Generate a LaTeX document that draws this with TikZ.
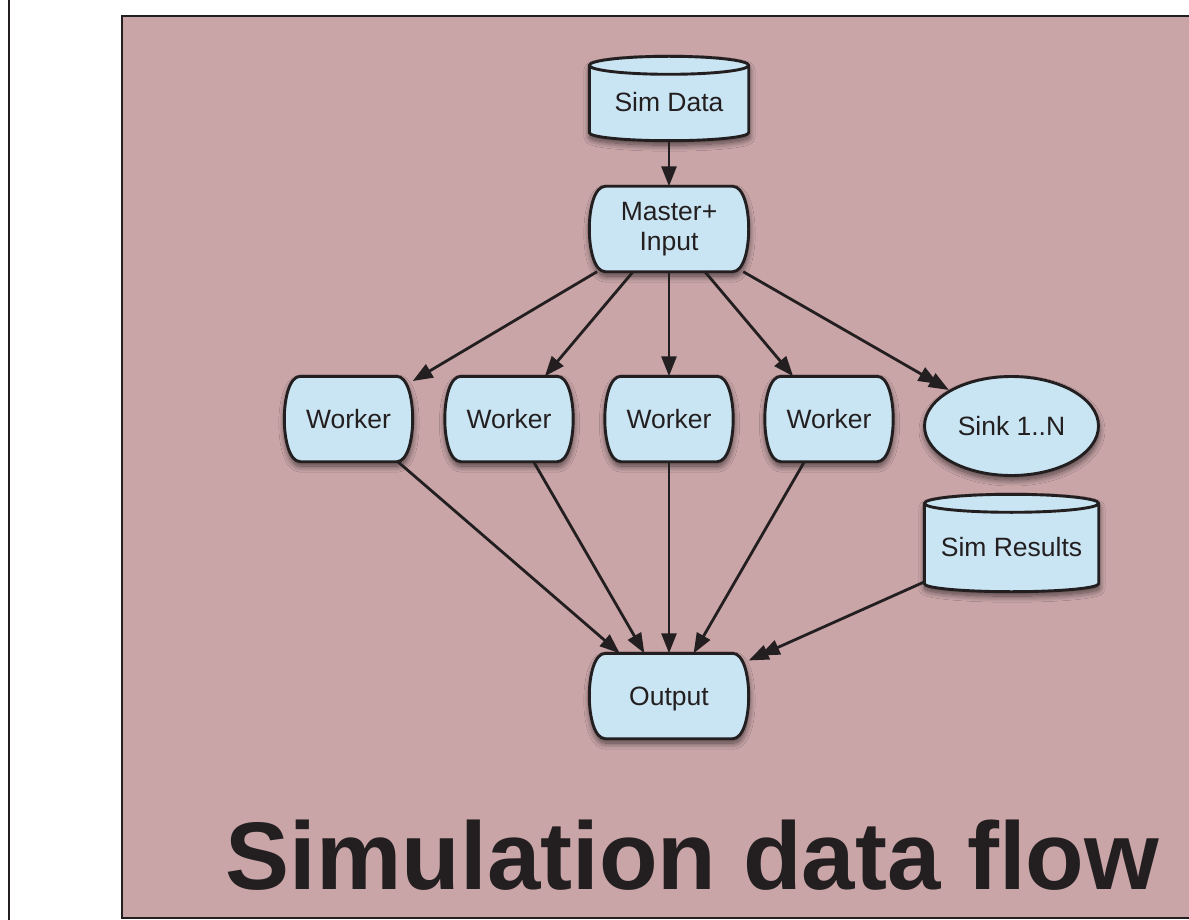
\documentclass[tikz,border=0pt]{standalone}
\usepackage{fontspec}
\setmainfont{Liberation Sans}
\usetikzlibrary{arrows.meta,shapes.geometric,backgrounds,shadows.blur,calc}

\definecolor{panel}{RGB}{201,165,168}
\definecolor{boxfill}{RGB}{201,228,242}
\definecolor{ink}{RGB}{35,31,32}

\tikzset{
  softshadow/.style={blur shadow={shadow xshift=0.5pt, shadow yshift=-4.5pt,
      shadow blur radius=6pt, shadow opacity=60, shadow blur steps=12}},
  shapebox/.style={draw=ink, fill=boxfill, line width=2.9pt, softshadow},
  lbl/.style={font=\fontsize{26.5pt}{30pt}\selectfont, text=ink, align=center, inner sep=0pt},
  termbox/.style={lbl, minimum width=159pt, minimum height=85pt},
  workbox/.style={lbl, minimum width=128pt, minimum height=85pt, text height=19pt, text depth=0pt},
  cylbox/.style={lbl, text height=27pt, text depth=0pt},
  flow/.style={draw=ink, line width=2.8pt, -{Triangle[length=20pt,width=15pt]}},
  flowtwo/.style={draw=ink, line width=2.8pt,
      -{Triangle[length=20pt,width=15pt,sep=-8pt]Triangle[length=20pt,width=15pt]}},
}

% terminal-like box: flat top and bottom, bulging sides
\newcommand\termpath[1]{%
  \path[shapebox] ([xshift=16pt]#1.north west) -- ([xshift=-16pt]#1.north east)
    .. controls ([xshift=5.33pt]#1.north east) and ([xshift=5.33pt]#1.south east) .. ([xshift=-16pt]#1.south east)
    -- ([xshift=16pt]#1.south west)
    .. controls ([xshift=-5.33pt]#1.south west) and ([xshift=-5.33pt]#1.north west) .. cycle;}

% storage cylinder drawn inside a node's bounding box
\newcommand\cylpath[1]{%
  \path[shapebox] let \p1=(#1.north west), \p2=(#1.south east) in
    (\x1,\y1-9pt) -- (\x1,\y2+8pt)
    arc[start angle=180, end angle=360, x radius={(\x2-\x1)/2}, y radius=8pt]
    -- (\x2,\y1-9pt)
    arc[start angle=0, end angle=180, x radius={(\x2-\x1)/2}, y radius=9pt] -- cycle;
  \draw[ink, line width=2.9pt] let \p1=(#1.north west), \p2=(#1.south east) in
    (\x1,\y1-9pt) arc[start angle=180, end angle=360, x radius={(\x2-\x1)/2}, y radius=9pt];}

\begin{document}
\begin{tikzpicture}[x=1pt, y=-1pt]
\useasboundingbox (0,0) rectangle (1189,920);

% nodes
\node[cylbox, minimum width=159pt, minimum height=84pt] (simdata) at (669,98.5) {Sim Data};
\node[termbox] (master) at (669,229) {Master+\\Input};
\node[workbox] (w1) at (348.5,419) {Worker};
\node[workbox] (w2) at (509,419) {Worker};
\node[workbox] (w3) at (669,419) {Worker};
\node[workbox] (w4) at (829,419) {Worker};
\node[lbl, ellipse, minimum width=174pt, minimum height=99pt, draw=ink, fill=boxfill,
      line width=2.9pt, softshadow, text height=19pt, text depth=0pt] (sink) at (1011.5,426) {Sink 1..N};
\node[cylbox, minimum width=174pt, minimum height=97pt] (results) at (1011.5,543) {Sim Results};
\node[termbox, text height=19pt, text depth=0pt] (output) at (669,696) {Output};

\node[font=\fontsize{96pt}{96pt}\selectfont\bfseries, text=ink, anchor=base, inner sep=0pt]
  (title) at (692.5,889) {Simulation data flow};

% panel and shape outlines
\begin{scope}[on background layer]
  \draw[ink, line width=2pt] (9,-2) -- (9,922);
  \filldraw[fill=panel, draw=ink, line width=2.2pt] (122,16) rectangle (1200,918);
  \cylpath{simdata}
  \termpath{master}
  \termpath{w1}
  \termpath{w2}
  \termpath{w3}
  \termpath{w4}
  \cylpath{results}
  \termpath{output}
\end{scope}

% connectors
\draw[flow] (simdata) -- (master);
\draw[flow] (master) -- (w1);
\draw[flow] (master) -- (w2);
\draw[flow] (master) -- (w3);
\draw[flow] (master) -- (w4);
\draw[flowtwo] (master) -- (sink);
\draw[flow] (w1) -- (output);
\draw[flow] (w2) -- (output);
\draw[flow] (w3) -- (output);
\draw[flow] (w4) -- (output);
\draw[flowtwo] (results) -- (output);
\end{tikzpicture}
\end{document}
